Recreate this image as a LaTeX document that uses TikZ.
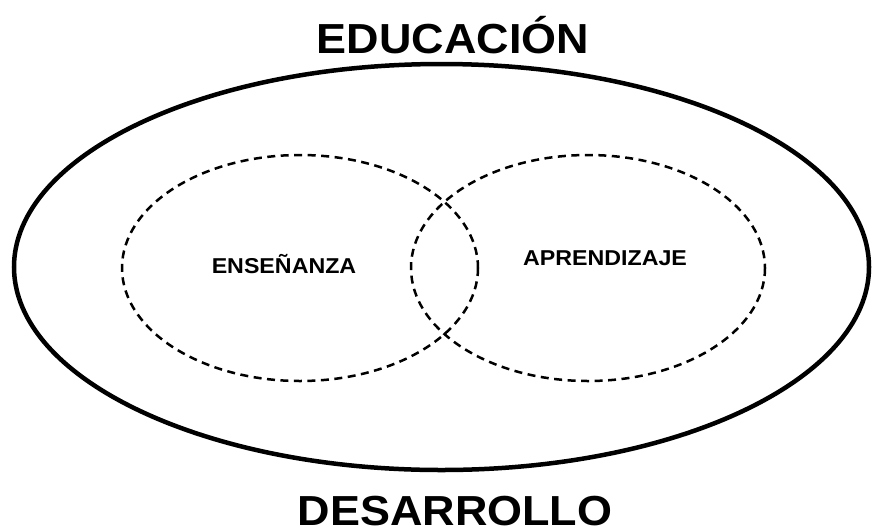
\documentclass[tikz,border=0pt]{standalone}
\usepackage{fontspec}
\setmainfont{Liberation Sans}
\begin{document}
\begin{tikzpicture}[x=1pt,y=-1pt,
  outer/.style={draw=black,line width=4.5pt},
  inner/.style={draw=black,line width=2.5pt,dash pattern=on 8pt off 5.5pt},
  title/.style={font=\fontsize{42}{42}\selectfont\bfseries,anchor=base,inner sep=0pt,xscale=1.07},
  label/.style={font=\fontsize{21.5}{21.5}\selectfont\bfseries,anchor=base,inner sep=0pt,xscale=1.08}]
\useasboundingbox (0,0) rectangle (872,531);
\draw[outer] (441.5,267) ellipse [x radius=427.5, y radius=203];
\draw[inner] (300,268) ellipse [x radius=178, y radius=113];
\draw[inner] (588,268) ellipse [x radius=177, y radius=113];
\node[title] (edu) at (453,53) {EDUCACIÓN};
\node[title] (des) at (455,525) {DESARROLLO};
\node[label] (ens) at (284,273) {ENSEÑANZA};
\node[label] (apr) at (605,265) {APRENDIZAJE};
\end{tikzpicture}
\end{document}
